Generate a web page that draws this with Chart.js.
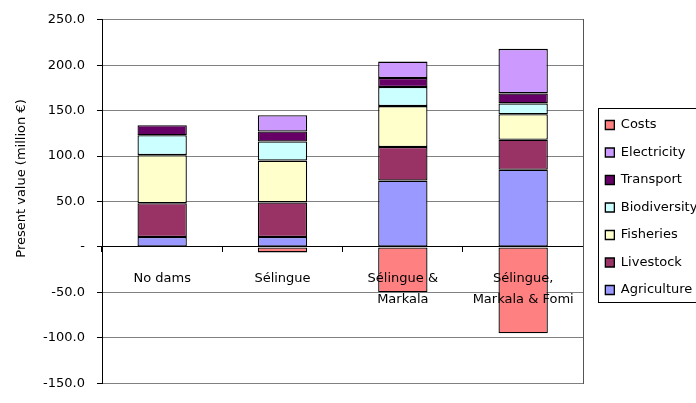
<!DOCTYPE html>
<html lang="en">
<head>
    <meta charset="UTF-8">
    <title>Present value by dam scenario</title>
    <script src="https://cdn.jsdelivr.net/npm/chart.js"></script>
    <style>
        body { margin: 0; background: #fff; }
        #wrap { width: 696px; height: 403px; overflow: hidden; }
    </style>
</head>
<body>
    <div id="wrap">
        <canvas id="pvChart" width="703" height="403"></canvas>
    </div>

    <script>
        // Scenarios and stacked components (million €)
        const scenarios = ['No dams', 'Sélingue', ['Sélingue &', 'Markala'], ['Sélingue,', 'Markala & Fomi']];
        const agriculture = [11, 11, 73, 85];
        const livestock = [37, 38, 37, 33];
        const fisheries = [53, 46, 45, 28];
        const biodiversity = [22, 21, 21, 12];
        const transport = [11, 11, 10, 11];
        const electricity = [null, 18, 18, 49];
        const costs = [null, -6, -50, -95];

        const yTicks = { min: -150, max: 250, step: 50 };

        const font = { family: 'DejaVu Sans', size: 13 };

        function series(label, data, color) {
            return {
                label: label,
                data: data,
                backgroundColor: color,
                borderColor: '#000',
                borderWidth: 1.3,
                borderSkipped: false,
                stack: 'pv',
                categoryPercentage: 1,
                barPercentage: 0.41
            };
        }

        // y-axis title, placed a little above the middle of the plot
        const axisTitle = {
            id: 'axisTitle',
            afterDraw(chart) {
                const ctx = chart.ctx;
                ctx.save();
                ctx.translate(21.5, 178.5);
                ctx.rotate(-Math.PI / 2);
                ctx.font = '13px "DejaVu Sans"';
                ctx.fillStyle = '#000';
                ctx.textAlign = 'center';
                ctx.textBaseline = 'middle';
                ctx.fillText('Present value (million €)', 0, 0);
                ctx.restore();
            }
        };

        // frame around the legend entries
        const legendFrame = {
            id: 'legendFrame',
            afterDraw(chart) {
                const boxes = chart.legend.legendHitBoxes;
                if (!boxes || !boxes.length) return;
                const first = boxes[0];
                const last = boxes[boxes.length - 1];
                const ctx = chart.ctx;
                ctx.save();
                ctx.strokeStyle = '#000';
                ctx.lineWidth = 1;
                const left = Math.round(first.left - 7) + 0.5;
                const top = Math.round(first.top - 10.5) + 0.5;
                const bottom = Math.round(last.top + last.height + 5.5) + 0.5;
                ctx.strokeRect(left, top, chart.width, bottom - top);
                ctx.restore();
            }
        };

        const ctx = document.getElementById('pvChart').getContext('2d');
        new Chart(ctx, {
            type: 'bar',
            data: {
                labels: scenarios,
                datasets: [
                    series('Agriculture', agriculture, '#9999FF'),
                    series('Livestock', livestock, '#993366'),
                    series('Fisheries', fisheries, '#FFFFCC'),
                    series('Biodiversity', biodiversity, '#CCFFFF'),
                    series('Transport', transport, '#660066'),
                    series('Electricity', electricity, '#CC99FF'),
                    series('Costs', costs, '#FF8080')
                ]
            },
            options: {
                responsive: false,
                animation: false,
                layout: { padding: { top: 19, bottom: 7, left: 30, right: 0 } },
                plugins: {
                    tooltip: { enabled: false },
                    legend: {
                        position: 'right',
                        reverse: true,
                        labels: {
                            font: font,
                            color: '#000',
                            boxWidth: 9,
                            boxHeight: 9,
                            padding: 14.5
                        }
                    }
                },
                scales: {
                    x: {
                        stacked: true,
                        position: { y: 0 },
                        grid: {
                            display: true,
                            drawOnChartArea: false,
                            drawTicks: true,
                            tickLength: 5,
                            tickColor: '#000',
                            offset: true
                        },
                        border: { color: '#000' },
                        ticks: {
                            font: { family: 'DejaVu Sans', size: 13, lineHeight: 1.55 },
                            color: '#000',
                            padding: 17,
                            maxRotation: 0,
                            autoSkip: false,
                            z: 1
                        }
                    },
                    y: {
                        stacked: true,
                        min: yTicks.min,
                        max: yTicks.max,
                        grid: {
                            color: '#808080',
                            tickColor: '#000',
                            tickLength: 5
                        },
                        border: { color: '#000' },
                        ticks: {
                            stepSize: yTicks.step,
                            font: font,
                            color: '#000',
                            padding: 12,
                            callback: v => v === 0 ? '-' : v.toFixed(1)
                        },
                        afterFit: scale => { scale.width = 72; }
                    },
                    y2: {
                        position: 'right',
                        min: yTicks.min,
                        max: yTicks.max,
                        grid: { display: false },
                        ticks: { display: false },
                        border: { color: '#555' },
                        afterFit: scale => { scale.width = 7.5; }
                    }
                }
            },
            plugins: [axisTitle, legendFrame]
        });
    </script>
</body>
</html>
